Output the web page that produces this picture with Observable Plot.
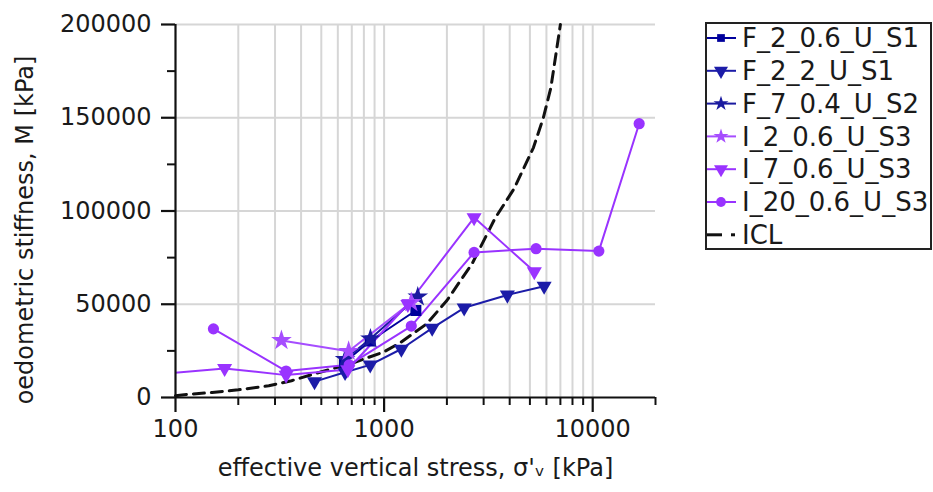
<!DOCTYPE html>
<html>
<head>
<meta charset="utf-8">
<script src="https://cdn.jsdelivr.net/npm/d3@7"></script>
<script src="https://cdn.jsdelivr.net/npm/@observablehq/plot@0.6"></script>
<style>
  html, body { margin: 0; padding: 0; background: white; }
  #wrap { position: relative; width: 933px; height: 492px; }
  #legend { position: absolute; left: 705px; top: 22px; }
</style>
</head>
<body>
<div id="wrap"><div id="chart"></div><div id="legend"></div></div>
<script>
// ---- data (σ'v [kPa], M [kPa]) ----
const F_2_06_U_S1 = [[646, 18900], [858, 30300], [1420, 46650]];
const F_2_2_U_S1 = [[464, 8500], [650, 13500], [858, 17500], [1210, 26000], [1700, 37200], [2420, 48100], [3900, 55000], [5850, 59700]];
const F_7_04_U_S2 = [[650, 20500], [860, 31500], [1450, 54000]];
const I_2_06_U_S3 = [[322, 30600], [676, 24800], [1350, 51000]];
const I_7_06_U_S3 = [[80, 12300], [172, 15600], [339, 12000], [670, 15000], [1300, 50000], [2700, 96500], [5250, 67500]];
const I_20_06_U_S3 = [[152, 36800], [339, 14200], [680, 17500], [1350, 38300], [2700, 77800], [5350, 79800], [10700, 78500], [16700, 146800]];
const ICL = [[100, 1000], [110, 1500], [150, 2700], [200, 4100], [280, 6300], [360, 9000], [460, 12600], [700, 18300], [1000, 24500], [1200, 29500], [1600, 39500], [2000, 52000], [2650, 72000], [3400, 96000], [4200, 112000], [5200, 134000], [5800, 150000], [6300, 166000], [7000, 200000]];

const seriesNames = ["F_2_0.6_U_S1", "F_2_2_U_S1", "F_7_0.4_U_S2", "I_2_0.6_U_S3", "I_7_0.6_U_S3", "I_20_0.6_U_S3"];
const seriesData = [F_2_06_U_S1, F_2_2_U_S1, F_7_04_U_S2, I_2_06_U_S3, I_7_06_U_S3, I_20_06_U_S3];
const seriesColors = ["#00009c", "#1c1ca8", "#1a1aa0", "#a64dff", "#9a33ff", "#9933ff"];
const seriesSymbols = ["square", "triangle", "star", "star", "triangle", "circle"];
const seriesRotate = [0, 180, 0, 0, 180, 0];
const seriesR = [6.2, 5.6, 6.5, 6.5, 5.6, 5.6];

const xMajor = [100, 1000, 10000];
const xMinor = [200, 300, 400, 500, 600, 700, 800, 900, 2000, 3000, 4000, 5000, 6000, 7000, 8000, 9000, 20000];
const xGrid = [200, 300, 400, 500, 600, 700, 800, 900, 1000, 2000, 3000, 4000, 5000, 6000, 7000, 8000, 9000, 10000];
const yMajor = [0, 50000, 100000, 150000, 200000];
const yMinor = [25000, 75000, 125000, 175000];
const yGrid = [50000, 100000, 150000, 200000];

const xLabel = "effective vertical stress, σ'ᵥ [kPa]";
const yLabel = "oedometric stiffness, M [kPa]";

const FONT = "'DejaVu Sans', Verdana, sans-serif";
const fx = d => d[0], fy = d => d[1];
const seriesMarks = [];
seriesData.forEach((data, i) => {
  seriesMarks.push(Plot.line(data, {x: fx, y: fy, stroke: seriesColors[i], strokeWidth: 2, clip: true}));
});
seriesData.forEach((data, i) => {
  seriesMarks.push(Plot.dot(data, {x: fx, y: fy, symbol: seriesSymbols[i], r: seriesR[i], fill: seriesColors[i], stroke: "none", rotate: seriesRotate[i], clip: true}));
});

const chart = Plot.plot({
  width: 933, height: 492,
  marginLeft: 175, marginRight: 278, marginTop: 24, marginBottom: 95,
  x: {type: "log", domain: [100, 20000]},
  y: {domain: [0, 200000]},
  style: {fontFamily: FONT, fontSize: "24px", color: "#1a1a1a", background: "white", overflow: "visible"},
  marks: [
    Plot.ruleX(xGrid, {stroke: "#d6d6d6", strokeWidth: 2}),
    Plot.ruleY(yGrid, {stroke: "#d6d6d6", strokeWidth: 2}),
    Plot.line(ICL, {x: fx, y: fy, stroke: "#111", strokeWidth: 3, strokeDasharray: "11,7"}),
    ...seriesMarks,
    Plot.ruleX([100], {stroke: "#111", strokeWidth: 2.2}),
    Plot.ruleY([0], {stroke: "#111", strokeWidth: 2.2}),
    Plot.axisX(xMajor, {tickSize: 15, tickPadding: 7, tickFormat: d => String(d), label: null, stroke: "#111", strokeWidth: 2.2}),
    Plot.axisX(xMinor, {tickSize: 8, tickFormat: () => "", label: null, stroke: "#111", strokeWidth: 2}),
    Plot.axisY(yMajor, {tickSize: 14, tickPadding: 10, tickFormat: d => String(d), label: null, stroke: "#111", strokeWidth: 2.2}),
    Plot.axisY(yMinor, {tickSize: 8, tickFormat: () => "", label: null, stroke: "#111", strokeWidth: 2}),
    Plot.text([xLabel], {text: d => d, frameAnchor: "bottom", dy: 78, fontSize: 24, fill: "#1a1a1a"}),
    Plot.text([yLabel], {text: d => d, frameAnchor: "left", textAnchor: "middle", rotate: -90, dx: -150, dy: 19, fontSize: 24, fill: "#1a1a1a"})
  ]
});
document.getElementById("chart").appendChild(chart);

// ---- legend ----
const lw = 227, lh = 228;
const lg = d3.select("#legend").append("svg").attr("width", lw).attr("height", lh)
  .style("font-family", FONT);
lg.append("rect").attr("x", 1).attr("y", 1).attr("width", lw - 2).attr("height", lh - 2)
  .attr("fill", "white").attr("stroke", "#222").attr("stroke-width", 2);
const symMap = {square: d3.symbolSquare, triangle: d3.symbolTriangle, star: d3.symbolStar, circle: d3.symbolCircle};
const legSizes = [60, 85, 70, 70, 85, 75];
seriesNames.forEach((name, i) => {
  const cy = 16 + i * 32.8;
  lg.append("line").attr("x1", 2).attr("x2", 31).attr("y1", cy).attr("y2", cy)
    .attr("stroke", seriesColors[i]).attr("stroke-width", 2);
  lg.append("path").attr("d", d3.symbol(symMap[seriesSymbols[i]], legSizes[i])())
    .attr("transform", `translate(16,${cy}) rotate(${seriesRotate[i]})`).attr("fill", seriesColors[i]);
  lg.append("text").attr("x", 37).attr("y", cy).attr("dy", "0.35em").attr("font-size", 26)
    .attr("fill", "#1a1a1a").text(name);
});
{
  const cy = 16 + 6 * 32.8;
  lg.append("line").attr("x1", 2).attr("x2", 17).attr("y1", cy).attr("y2", cy).attr("stroke", "#111").attr("stroke-width", 3);
  lg.append("line").attr("x1", 26).attr("x2", 30).attr("y1", cy).attr("y2", cy).attr("stroke", "#111").attr("stroke-width", 3);
  lg.append("text").attr("x", 37).attr("y", cy).attr("dy", "0.35em").attr("font-size", 26).attr("fill", "#1a1a1a").text("ICL");
}
</script>
</body>
</html>
